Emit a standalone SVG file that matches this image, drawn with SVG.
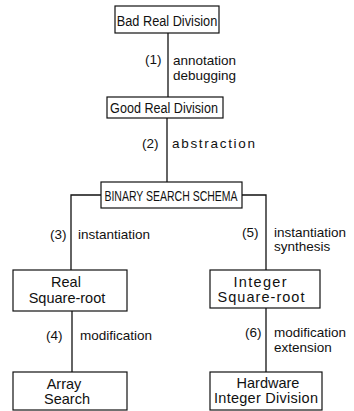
<svg xmlns="http://www.w3.org/2000/svg" width="354" height="411" viewBox="0 0 354 411">
<style>
.box{fill:#fff;stroke:#111;stroke-width:1.2}
.ln{fill:none;stroke:#111;stroke-width:1.3}
text{font-family:"Liberation Sans",Arial,sans-serif;font-size:13.5px;fill:#111}
.c{text-anchor:middle}
.b{font-size:14.5px}
.t{font-size:15px}
</style>
<rect width="354" height="411" fill="#fff"/>
<g id="connectors">
<path class="ln" d="M168 33V97"/>
<path class="ln" d="M167 118V182"/>
<path class="ln" d="M101 195H71V270"/>
<path class="ln" d="M242 195H266V270"/>
<path class="ln" d="M72 311V372"/>
<path class="ln" d="M266 308V372"/>
<text x="145" y="64">(1)</text>
<text x="173" y="65">annotation</text>
<text x="173" y="80">debugging</text>
<text x="142" y="148">(2)</text>
<text x="172" y="148" textLength="83" lengthAdjust="spacing">abstraction</text>
<text x="50" y="239">(3)</text>
<text x="78" y="239">instantiation</text>
<text x="46" y="340">(4)</text>
<text x="80" y="340">modification</text>
<text x="242" y="237">(5)</text>
<text x="274" y="237">instantiation</text>
<text x="274" y="251">synthesis</text>
<text x="245" y="337">(6)</text>
<text x="274" y="337">modification</text>
<text x="274" y="352">extension</text>
</g>
<g id="bad-real-division">
<rect class="box" x="115" y="6" width="104" height="27"/>
<text class="c t" transform="translate(167 26) scale(0.85 1)">Bad Real Division</text>
</g>
<g id="good-real-division">
<rect class="box" x="107" y="97" width="116" height="21"/>
<text class="c t" transform="translate(164 113) scale(0.84 1)">Good Real Division</text>
</g>
<g id="binary-search-schema">
<rect class="box" x="101" y="182" width="141" height="26"/>
<text class="c t" transform="translate(171 201) scale(0.7 1)">BINARY SEARCH SCHEMA</text>
</g>
<g id="real-square-root">
<rect class="box" x="13" y="270" width="114" height="41"/>
<text class="c b" x="66" y="287">Real</text>
<text class="c b" x="67" y="303">Square-root</text>
</g>
<g id="array-search">
<rect class="box" x="13" y="372" width="114" height="38"/>
<text class="c b" x="64" y="389">Array</text>
<text class="c b" x="67" y="404">Search</text>
</g>
<g id="integer-square-root">
<rect class="box" x="210" y="270" width="110" height="38"/>
<text class="c b" x="260" y="287" textLength="53" lengthAdjust="spacing">Integer</text>
<text class="c b" x="261" y="302" textLength="87" lengthAdjust="spacing">Square-root</text>
</g>
<g id="hardware-integer-division">
<rect class="box" x="210" y="372" width="112" height="38"/>
<text class="c b" x="268" y="388">Hardware</text>
<text class="c b" x="266" y="403" textLength="104" lengthAdjust="spacing">Integer Division</text>
</g>
</svg>
